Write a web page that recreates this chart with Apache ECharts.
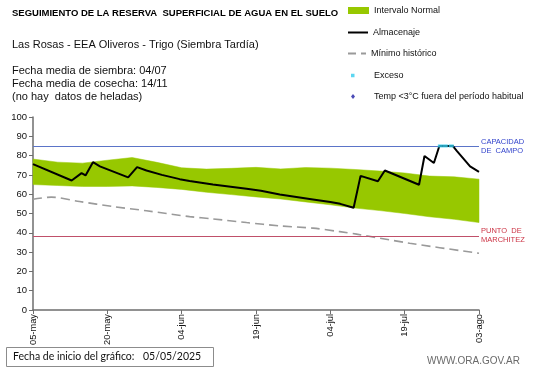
<!DOCTYPE html>
<html>
<head>
<meta charset="utf-8">
<script src="https://cdn.jsdelivr.net/npm/echarts@6/dist/echarts.min.js"></script>
<style>
html,body{margin:0;padding:0;background:#fff;}
#c{width:541px;height:368px;}
</style>
</head>
<body>
<div id="c"></div>
<script>
// ---- data ----
const tickLabels = ['05-may','20-may','04-jun','19-jun','04-jul','19-jul','03-ago'];
// days since 05-may
const bandDays  = [0,5,10,15,20,25,30,35,40,45,50,55,60,65,70,75,80,85,90];
const bandLower = [65.0,64.5,64.0,64.0,64.3,63.5,62.5,61.0,59.8,58.6,57.5,56.0,54.5,52.8,51.5,50.0,48.3,47.0,45.3];
const bandUpper = [78.2,76.6,76.1,77.6,79.0,76.5,73.7,73.0,73.4,73.9,73.1,73.8,73.5,72.8,72.0,71.0,69.4,69.0,67.8];

const almDays   = [0,7.8,9.8,10.6,12.1,13.5,19.2,21.0,22.9,26,29.6,31.6,36.3,43.1,46,49.8,56.5,60,62,64.7,66.1,69.6,71.0,77.9,79.0,80.9,82.0,84.7,85.6,88.2,90];
const almValues = [75.6,67.1,70.9,69.7,76.6,74.4,68.7,74.0,72.3,70.0,67.8,66.8,65.0,62.8,61.8,59.8,57.3,56.0,55.0,53.0,69.5,66.7,72.3,64.9,79.8,76.2,85,85,82.2,74.4,71.6];

const minDays   = [0,3.7,9.4,16.2,22.9,31.6,36.3,43.1,49.8,56.5,61.9,65.3,76,90];
const minValues = [57.4,58.5,56.2,53.6,51.4,48.4,47.2,45.3,43.6,42.4,40.6,39.3,34.6,29.4];

const excesoDays   = [82.2,83.2,84.4];
const excesoValues = [85,85,85];

const capacidadCampo = 85;
const puntoMarchitez = 38.4;

// ---- build ----
const pairs = (xs, ys) => xs.map((x,i)=>[x, ys[i]]);

const chart = echarts.init(document.getElementById('c'), null, {renderer:'canvas'});
const FONT = '"Liberation Sans", Arial, sans-serif';
const GREEN = '#97c800';

const legendBase = {orient:'vertical', padding:0, itemHeight:7, selectedMode:false,
  textStyle:{fontFamily:FONT, fontSize:9, color:'#111'}};

const option = {
  animation:false,
  backgroundColor:'#fff',
  textStyle:{fontFamily:FONT},
  title:[
    {text:'SEGUIMIENTO DE LA RESERVA  SUPERFICIAL DE AGUA EN EL SUELO', left:12, top:8, padding:0,
     textStyle:{fontFamily:FONT, fontSize:9.5, fontWeight:'bold', color:'#000'}},
    {text:'Las Rosas - EEA Oliveros - Trigo (Siembra Tardía)', left:12, top:39, padding:0,
     textStyle:{fontFamily:FONT, fontSize:11, fontWeight:'normal', color:'#111'}},
    {text:'Fecha media de siembra: 04/07\nFecha media de cosecha: 14/11\n(no hay  datos de heladas)', left:12, top:64, padding:0,
     textStyle:{fontFamily:FONT, fontSize:11, fontWeight:'normal', color:'#111', lineHeight:13}}
  ],
  legend:[
    Object.assign({}, legendBase, {left:348, top:6, itemWidth:21, data:[{name:'Intervalo Normal', icon:'rect', itemStyle:{color:GREEN}}]}),
    Object.assign({}, legendBase, {left:348, top:28, itemWidth:20, data:[{name:'Almacenaje', icon:'path://M0,0h20v2h-20z', itemStyle:{color:'#000'}}]}),
    Object.assign({}, legendBase, {left:348, top:49, itemWidth:18, itemHeight:2, data:[{name:'Mínimo histórico', icon:'path://M0,0h8v2h-8zM13,0h5v2h-5z', itemStyle:{color:'#9a9a9a'}}]}),
    Object.assign({}, legendBase, {left:351, top:71, itemWidth:18, itemHeight:4, data:[{name:'Exceso', icon:'path://M0,0h3.5v3.5h-3.5zM17.99,1.7h0.01v0.01z'}]}),
    Object.assign({}, legendBase, {left:351, top:92, itemWidth:18, itemHeight:5, data:[{name:'Temp <3°C fuera del período habitual', icon:'path://M2,0L4,2.5L2,5L0,2.5zM17.99,2.5h0.01v0.01z'}]})
  ],
  grid:{left:33, top:117, width:446, height:193, containLabel:false, outerBoundsMode:'none'},
  xAxis:{
    type:'value', min:0, max:90, interval:15,
    axisLine:{lineStyle:{color:'#6e6e6e', width:1.5}},
    axisTick:{show:true, length:4, lineStyle:{color:'#6e6e6e'}},
    splitLine:{show:false},
    axisLabel:{rotate:90, margin:4, fontSize:9.3, color:'#111', fontFamily:FONT,
      formatter:(v)=>tickLabels[Math.round(v/15)] || ''}
  },
  yAxis:{
    type:'value', min:0, max:100, interval:10,
    name:'Milímetros', nameLocation:'middle', nameRotate:90, nameGap:21,
    nameTextStyle:{fontSize:6.5, fontWeight:'bold', color:'#111', fontFamily:FONT},
    axisLine:{show:true, lineStyle:{color:'#6e6e6e', width:1.5}},
    axisTick:{show:true, length:4, lineStyle:{color:'#6e6e6e'}},
    splitLine:{show:false},
    axisLabel:{margin:6, fontSize:9.5, color:'#111', fontFamily:FONT}
  },
  series:[
    {name:'Intervalo Normal', type:'custom', data:pairs(bandDays, bandUpper),
     encode:{x:0, y:1}, itemStyle:{color:GREEN}, silent:true, z:1,
     renderItem:(params, api)=>{
       if (params.dataIndex !== 0) return null;
       const top = bandDays.map((d,i)=>api.coord([d, bandUpper[i]]));
       const bot = bandDays.map((d,i)=>api.coord([d, bandLower[i]])).reverse();
       return {type:'polygon', shape:{points:top.concat(bot)}, style:{fill:GREEN, stroke:GREEN, lineWidth:0.5}};
     }},
    {name:'Mínimo histórico', type:'line', data:pairs(minDays, minValues), smooth:0.3,
     symbol:'none', itemStyle:{color:'#9a9a9a'}, lineStyle:{color:'#9a9a9a', width:1.6, type:[9,5]}, z:3},
    {name:'Almacenaje', type:'line', data:pairs(almDays, almValues),
     symbol:'none', itemStyle:{color:'#000'}, lineStyle:{color:'#000', width:2}, z:5,
     markLine:{silent:true, symbol:'none', animation:false,
       data:[
         {yAxis:capacidadCampo, lineStyle:{color:'#5b74c8', width:1, type:'solid'},
          label:{show:true, position:'end', distance:2, formatter:'CAPACIDAD\nDE  CAMPO', color:'#3344cc',
                 fontSize:7.5, lineHeight:9, fontFamily:FONT, align:'left', padding:[7,0,0,0]}},
         {yAxis:puntoMarchitez, lineStyle:{color:'#c0506a', width:1, type:'solid'},
          label:{show:true, position:'end', distance:2, formatter:'PUNTO  DE\nMARCHITEZ', color:'#cc3344',
                 fontSize:7.5, lineHeight:9, fontFamily:FONT, align:'left', padding:[0,0,13,0]}}
       ]}},
    {name:'Exceso', type:'scatter', data:pairs(excesoDays, excesoValues), symbol:'rect', symbolSize:[5,3],
     itemStyle:{color:'#33ccee'}, z:6},
    {name:'Temp <3°C fuera del período habitual', type:'scatter', data:[], symbol:'diamond', symbolSize:5,
     itemStyle:{color:'#1f1fa5'}, z:6}
  ],
  graphic:[
    {type:'rect', left:6, top:347, shape:{width:207, height:19}, style:{fill:'#fff', stroke:'#8c8c8c', lineWidth:1}},
    {type:'text', left:13, top:351, style:{text:'Fecha de inicio del gráfico:', font:'10.5px Lato, "Open Sans", sans-serif', fill:'#111'}},
    {type:'text', left:143, top:351, style:{text:'05/05/2025', font:'10.5px Lato, "Open Sans", sans-serif', fill:'#111'}},
    {type:'text', left:427, top:356, style:{text:'WWW.ORA.GOV.AR', font:'10px '+FONT, fill:'#6a6a6a'}}
  ]
};
chart.setOption(option);
</script>
</body>
</html>
